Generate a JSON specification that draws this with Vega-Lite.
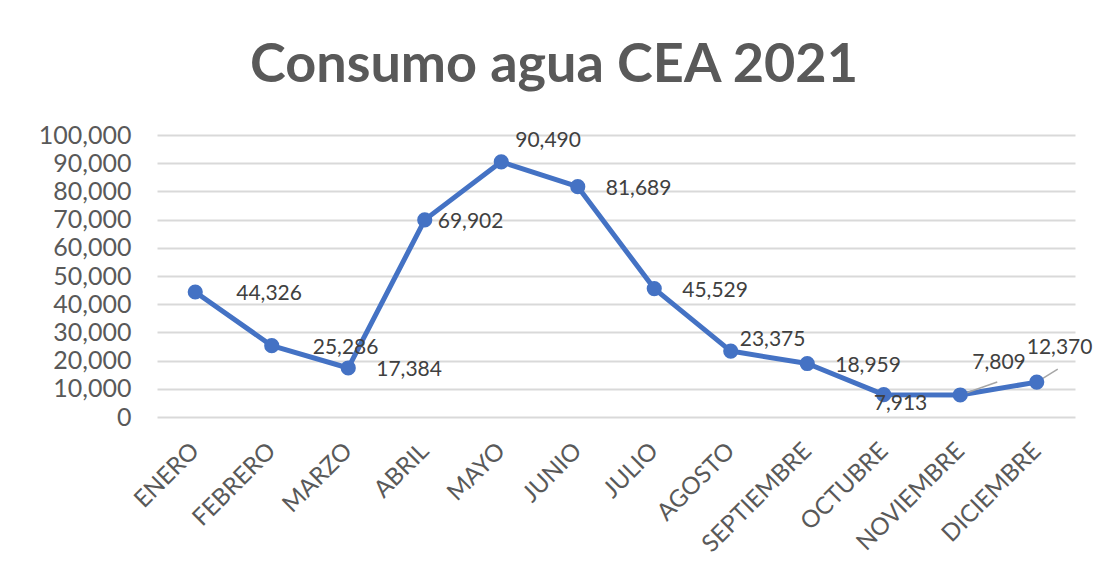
{
  "$schema": "https://vega.github.io/schema/vega-lite/v6.json",
  "width": 918,
  "height": 282,
  "autosize": "none",
  "padding": {"left": 157, "top": 135, "right": 29, "bottom": 169},
  "background": "white",
  "title": {
    "text": "Consumo agua CEA 2021",
    "font": "Lato",
    "fontSize": 54,
    "fontWeight": "bold",
    "color": "#595959",
    "anchor": "middle",
    "dx": -62,
    "offset": 30
  },
  "data": {
    "values": [
      {"mes": "ENERO", "consumo": 44326},
      {"mes": "FEBRERO", "consumo": 25286},
      {"mes": "MARZO", "consumo": 17384},
      {"mes": "ABRIL", "consumo": 69902},
      {"mes": "MAYO", "consumo": 90490},
      {"mes": "JUNIO", "consumo": 81689},
      {"mes": "JULIO", "consumo": 45529},
      {"mes": "AGOSTO", "consumo": 23375},
      {"mes": "SEPTIEMBRE", "consumo": 18959},
      {"mes": "OCTUBRE", "consumo": 7913},
      {"mes": "NOVIEMBRE", "consumo": 7809},
      {"mes": "DICIEMBRE", "consumo": 12370}
    ]
  },
  "encoding": {
    "x": {
      "field": "mes",
      "type": "ordinal",
      "sort": null,
      "title": null,
      "scale": {"type": "point", "padding": 0.5},
      "axis": {
        "labelAngle": -45,
        "labelAlign": "right",
        "labelBaseline": "middle",
        "labelPadding": 30,
        "ticks": false,
        "domain": false,
        "grid": false,
        "labelFont": "Lato",
        "labelFontSize": 24,
        "labelColor": "#595959"
      }
    },
    "y": {
      "field": "consumo",
      "type": "quantitative",
      "title": null,
      "scale": {"domain": [0, 100000], "nice": false},
      "axis": {
        "values": [0, 10000, 20000, 30000, 40000, 50000, 60000, 70000, 80000, 90000, 100000],
        "format": ",d",
        "ticks": false,
        "domain": false,
        "grid": true,
        "gridColor": "#d9d9d9",
        "gridWidth": 2,
        "labelPadding": 26,
        "labelFont": "Lato",
        "labelFontSize": 25,
        "labelColor": "#595959"
      }
    }
  },
  "layer": [
    {
      "mark": {"type": "line", "color": "#4472C4", "strokeWidth": 5, "strokeJoin": "round"}
    },
    {
      "transform": [{"filter": {"field": "mes", "equal": "NOVIEMBRE"}}],
      "mark": {"type": "rule", "color": "#a6a6a6", "strokeWidth": 1.5, "x2Offset": 37, "y2Offset": -13},
      "encoding": {
        "x2": {"field": "mes"},
        "y2": {"field": "consumo"}
      }
    },
    {
      "transform": [{"filter": {"field": "mes", "equal": "DICIEMBRE"}}],
      "mark": {"type": "rule", "color": "#a6a6a6", "strokeWidth": 1.5, "x2Offset": 21, "y2Offset": -13},
      "encoding": {
        "x2": {"field": "mes"},
        "y2": {"field": "consumo"}
      }
    },
    {
      "mark": {"type": "point", "filled": true, "color": "#4472C4", "size": 230, "opacity": 1}
    },
    {
      "transform": [{"filter": {"field": "mes", "oneOf": ["ENERO", "FEBRERO"]}}],
      "mark": {"type": "text", "align": "left", "baseline": "middle", "dx": 41, "dy": 2, "font": "Lato", "fontSize": 21, "color": "#404040"},
      "encoding": {"text": {"field": "consumo", "type": "quantitative", "format": ",d"}}
    },
    {
      "transform": [{"filter": {"field": "mes", "oneOf": ["MARZO", "JUNIO", "JULIO", "SEPTIEMBRE"]}}],
      "mark": {"type": "text", "align": "left", "baseline": "middle", "dx": 28, "dy": 2, "font": "Lato", "fontSize": 21, "color": "#404040"},
      "encoding": {"text": {"field": "consumo", "type": "quantitative", "format": ",d"}}
    },
    {
      "transform": [{"filter": {"field": "mes", "equal": "ABRIL"}}],
      "mark": {"type": "text", "align": "left", "baseline": "middle", "dx": 13, "dy": 2, "font": "Lato", "fontSize": 21, "color": "#404040"},
      "encoding": {"text": {"field": "consumo", "type": "quantitative", "format": ",d"}}
    },
    {
      "transform": [{"filter": {"field": "mes", "equal": "MAYO"}}],
      "mark": {"type": "text", "align": "left", "baseline": "middle", "dx": 14, "dy": -21, "font": "Lato", "fontSize": 21, "color": "#404040"},
      "encoding": {"text": {"field": "consumo", "type": "quantitative", "format": ",d"}}
    },
    {
      "transform": [{"filter": {"field": "mes", "equal": "AGOSTO"}}],
      "mark": {"type": "text", "align": "left", "baseline": "middle", "dx": 9, "dy": -11, "font": "Lato", "fontSize": 21, "color": "#404040"},
      "encoding": {"text": {"field": "consumo", "type": "quantitative", "format": ",d"}}
    },
    {
      "transform": [{"filter": {"field": "mes", "equal": "OCTUBRE"}}],
      "mark": {"type": "text", "align": "left", "baseline": "middle", "dx": -10, "dy": 9, "font": "Lato", "fontSize": 21, "color": "#404040"},
      "encoding": {"text": {"field": "consumo", "type": "quantitative", "format": ",d"}}
    },
    {
      "transform": [{"filter": {"field": "mes", "equal": "NOVIEMBRE"}}],
      "mark": {"type": "text", "align": "left", "baseline": "middle", "dx": 12, "dy": -32, "font": "Lato", "fontSize": 21, "color": "#404040"},
      "encoding": {"text": {"field": "consumo", "type": "quantitative", "format": ",d"}}
    },
    {
      "transform": [{"filter": {"field": "mes", "equal": "DICIEMBRE"}}],
      "mark": {"type": "text", "align": "left", "baseline": "middle", "dx": -10, "dy": -34, "font": "Lato", "fontSize": 21, "color": "#404040"},
      "encoding": {"text": {"field": "consumo", "type": "quantitative", "format": ",d"}}
    }
  ],
  "config": {"view": {"stroke": null}}
}
